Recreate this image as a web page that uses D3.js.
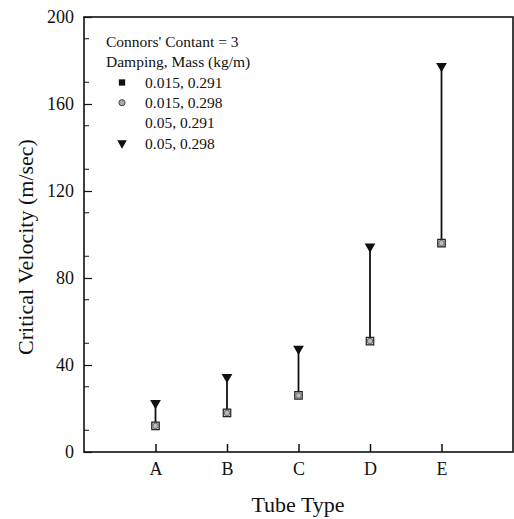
<!DOCTYPE html>
<html>
<head>
<meta charset="utf-8">
<script src="https://cdn.jsdelivr.net/npm/d3@7"></script>
<style>
  body { margin: 0; background: #fff; }
  svg text { font-family: "Liberation Serif", "Times New Roman", serif; fill: #111; }
</style>
</head>
<body>
<div id="chart"></div>
<script>
// tube types along the x axis
const tubeTypes = ['A', 'B', 'C', 'D', 'E'];
// damping, mass (kg/m) series
const seriesNames = ['0.015, 0.291', '0.015, 0.298', '0.05, 0.291', '0.05, 0.298'];
const lowDampLightMass = [12, 18, 26, 51, 96];
const lowDampHeavyMass = [12, 18, 26, 51, 96];
const highDampLightMass = [22, 34, 47, 94, 177];
const highDampHeavyMass = [22, 34, 47, 94, 177];
const yTicks = [0, 40, 80, 120, 160, 200];

const width = 514, height = 519;
const margin = { top: 17, right: 1, bottom: 67, left: 84 };
const serif = '"Liberation Serif", "Times New Roman", serif';

const svg = d3.select('#chart').append('svg')
  .attr('width', width)
  .attr('height', height);

const x = d3.scaleLinear().domain([0, 6]).range([margin.left, width - margin.right]);
const y = d3.scaleLinear().domain([0, 200]).range([height - margin.bottom, margin.top]);

const x0 = x.range()[0], x1 = x.range()[1];
const y0 = y.range()[0], y1 = y.range()[1];

// frame
svg.append('rect')
  .attr('x', x0).attr('y', y1)
  .attr('width', x1 - x0).attr('height', y0 - y1)
  .attr('fill', 'none').attr('stroke', '#111').attr('stroke-width', 1.6);

// y axis, ticks pointing inwards
const yAxis = svg.append('g').attr('transform', `translate(${x0},0)`)
  .call(d3.axisLeft(y).tickValues(yTicks).tickSize(-8).tickPadding(10).tickFormat(d3.format('d')));
yAxis.attr('font-family', serif);
yAxis.select('.domain').remove();
yAxis.selectAll('text').style('font-size', '18px');
yAxis.selectAll('line').attr('stroke', '#111').attr('stroke-width', 1.2);

svg.append('g').selectAll('line')
  .data(d3.range(10, 200, 20))
  .join('line')
  .attr('x1', x0).attr('x2', x0 + 5)
  .attr('y1', d => y(d)).attr('y2', d => y(d))
  .attr('stroke', '#111').attr('stroke-width', 1);

// x axis, category ticks pointing inwards
const xAxis = svg.append('g').attr('transform', `translate(0,${y0})`)
  .call(d3.axisBottom(x).tickValues([1, 2, 3, 4, 5]).tickSize(-8).tickPadding(10)
    .tickFormat(d => tubeTypes[d - 1]));
xAxis.attr('font-family', serif);
xAxis.select('.domain').remove();
xAxis.selectAll('text').style('font-size', '18px');
xAxis.selectAll('line').attr('stroke', '#111').attr('stroke-width', 1.5);

// axis titles
svg.append('text')
  .attr('transform', `translate(33,${247}) rotate(-90)`)
  .attr('text-anchor', 'middle')
  .style('font-size', '22px')
  .text('Critical Velocity (m/sec)');

svg.append('text')
  .attr('x', 298).attr('y', 512)
  .attr('text-anchor', 'middle')
  .style('font-size', '22px')
  .text('Tube Type');

// range lines from low to high
const idx = d3.range(tubeTypes.length);
svg.append('g').selectAll('line')
  .data(idx)
  .join('line')
  .attr('x1', i => x(i + 1)).attr('x2', i => x(i + 1))
  .attr('y1', i => y(lowDampLightMass[i])).attr('y2', i => y(highDampHeavyMass[i]))
  .attr('stroke', '#111').attr('stroke-width', 1.8);

const sq = d3.symbol().type(d3.symbolSquare).size(56);
const circ = d3.symbol().type(d3.symbolCircle).size(24);
const tri = d3.symbol().type(d3.symbolTriangle).size(50);

// 0.015, 0.291 squares
svg.append('g').selectAll('path')
  .data(idx)
  .join('path')
  .attr('transform', i => `translate(${x(i + 1)},${y(lowDampLightMass[i])})`)
  .attr('d', sq)
  .attr('fill', '#ccc').attr('stroke', '#222').attr('stroke-width', 1.2);

// 0.015, 0.298 circles
svg.append('g').selectAll('path')
  .data(idx)
  .join('path')
  .attr('transform', i => `translate(${x(i + 1)},${y(lowDampHeavyMass[i])})`)
  .attr('d', circ)
  .attr('fill', '#bbb').attr('stroke', '#555').attr('stroke-width', 0.8);

// 0.05, 0.298 down triangles
svg.append('g').selectAll('path')
  .data(idx)
  .join('path')
  .attr('transform', i => `translate(${x(i + 1)},${y(highDampHeavyMass[i]) - 1}) rotate(180)`)
  .attr('d', tri)
  .attr('fill', '#111');

// legend
const lg = svg.append('g');
lg.append('text').attr('x', 106).attr('y', 47).style('font-size', '15.5px').text("Connors' Contant = 3");
lg.append('text').attr('x', 106).attr('y', 67).style('font-size', '15.5px').text('Damping, Mass (kg/m)');

const legendMarks = [
  { name: seriesNames[0], draw: g => g.append('path').attr('d', d3.symbol().type(d3.symbolSquare).size(40)).attr('fill', '#111') },
  { name: seriesNames[1], draw: g => g.append('path').attr('d', d3.symbol().type(d3.symbolCircle).size(30)).attr('fill', '#aaa').attr('stroke', '#444').attr('stroke-width', 1) },
  { name: seriesNames[2], draw: g => g },
  { name: seriesNames[3], draw: g => g.append('path').attr('d', d3.symbol().type(d3.symbolTriangle).size(40)).attr('transform', 'rotate(180)').attr('fill', '#111') }
];
legendMarks.forEach((m, i) => {
  const yy = 82.5 + i * 20.2;
  m.draw(lg.append('g').attr('transform', `translate(122,${yy})`));
  lg.append('text').attr('x', 145).attr('y', yy + 5.5).style('font-size', '15.5px').text(m.name);
});
</script>
</body>
</html>
